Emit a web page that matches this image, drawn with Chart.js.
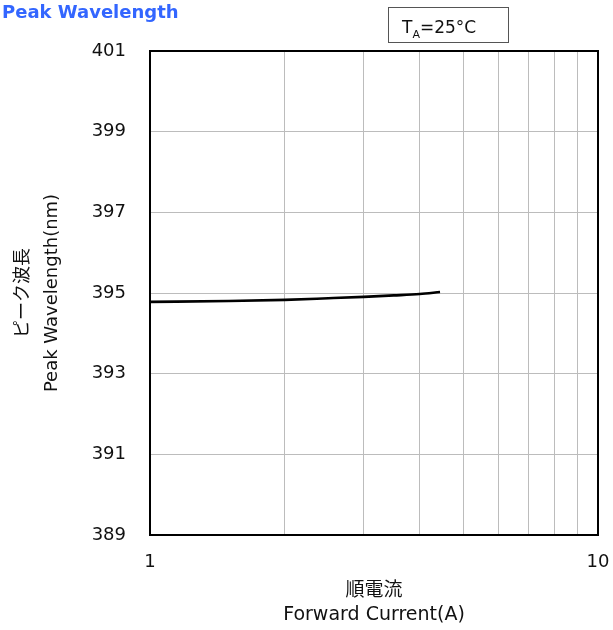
<!DOCTYPE html>
<html>
<head>
<meta charset="utf-8">
<script src="https://cdn.jsdelivr.net/npm/chart.js@4/dist/chart.umd.min.js"></script>
<style>
  html, body { margin: 0; padding: 0; background: #fff; }
  #wrap { width: 613px; height: 630px; position: relative; }
</style>
</head>
<body>
<div id="wrap"><canvas id="c" width="613" height="630"></canvas></div>
<script>
// Forward current (A) and peak wavelength (nm) at TA = 25°C
const currentA = [1, 1.5, 2, 2.5, 3, 3.5, 4, 4.44];
const peakNm   = [394.78, 394.80, 394.83, 394.87, 394.905, 394.94, 394.975, 395.025];

const yTicks = [389, 391, 393, 395, 397, 399, 401];
const xTickLabels = [1, 10];

const chartTitle = 'Peak Wavelength';
const yTitle = ['ピーク波長', 'Peak Wavelength(nm)'];
const xTitle = ['順電流', 'Forward Current(A)'];

const FONT = '"DejaVu Sans", "Noto Sans CJK JP", sans-serif';

// Heading, condition box and full plot frame
const decorations = {
  id: 'decorations',
  afterDraw(chart) {
    const ctx = chart.ctx;
    const a = chart.chartArea;
    ctx.save();
    // frame around the plot area
    ctx.strokeStyle = '#000';
    ctx.lineWidth = 2;
    ctx.strokeRect(a.left, a.top, a.right - a.left, a.bottom - a.top);

    // heading
    ctx.fillStyle = '#3366ff';
    ctx.font = 'bold 18px ' + FONT;
    ctx.textBaseline = 'alphabetic';
    ctx.textAlign = 'left';
    ctx.fillText(chartTitle, 2, 18);

    // condition box
    ctx.strokeStyle = '#555';
    ctx.lineWidth = 1;
    ctx.strokeRect(388.5, 7.5, 120, 35);
    ctx.fillStyle = '#111';
    ctx.font = '17px ' + FONT;
    let x = 402;
    ctx.fillText('T', x, 33);
    x += ctx.measureText('T').width;
    ctx.font = '11px ' + FONT;
    ctx.fillText('A', x, 38);
    x += ctx.measureText('A').width;
    ctx.font = '17px ' + FONT;
    ctx.fillText('=25°C', x, 33);
    ctx.restore();
  }
};

new Chart(document.getElementById('c'), {
  type: 'line',
  data: {
    datasets: [{
      data: currentA.map((v, i) => ({ x: v, y: peakNm[i] })),
      borderColor: '#000',
      borderWidth: 2.6,
      pointRadius: 0,
      cubicInterpolationMode: 'monotone',
      fill: false
    }]
  },
  options: {
    responsive: false,
    animation: false,
    devicePixelRatio: 1,
    layout: { padding: { top: 51, right: 15, left: 0, bottom: 0 } },
    plugins: {
      legend: { display: false },
      tooltip: { enabled: false }
    },
    scales: {
      x: {
        type: 'logarithmic',
        min: 1,
        max: 10,
        afterFit(scale) {
          scale.height = 95;
          scale.paddingLeft = 0;
          scale.paddingRight = 0;
        },
        afterBuildTicks(scale) {
          scale.ticks = [1, 2, 3, 4, 5, 6, 7, 8, 9, 10].map(v => ({ value: v }));
        },
        ticks: {
          autoSkip: false,
          maxRotation: 0,
          padding: 17,
          color: '#111',
          font: { family: FONT, size: 18 },
          callback: (v) => xTickLabels.includes(v) ? String(v) : ''
        },
        grid: { color: '#bcbcbc', lineWidth: 1, drawTicks: false },
        border: { display: false },
        title: {
          display: true,
          text: xTitle,
          color: '#111',
          font: { family: FONT, size: 19, lineHeight: 1.26 },
          padding: { top: 0, bottom: 3 }
        }
      },
      y: {
        type: 'linear',
        min: 389,
        max: 401,
        afterFit(scale) { scale.width = 150; },
        afterBuildTicks(scale) {
          scale.ticks = yTicks.map(v => ({ value: v }));
        },
        ticks: {
          padding: 24,
          color: '#111',
          font: { family: FONT, size: 18 }
        },
        grid: { color: '#bcbcbc', lineWidth: 1, drawTicks: false },
        border: { display: false },
        title: {
          display: true,
          text: yTitle,
          color: '#111',
          font: { family: FONT, size: 18, lineHeight: 1.62 },
          padding: { top: 9, bottom: 0 }
        }
      }
    }
  },
  plugins: [decorations]
});
</script>
</body>
</html>
